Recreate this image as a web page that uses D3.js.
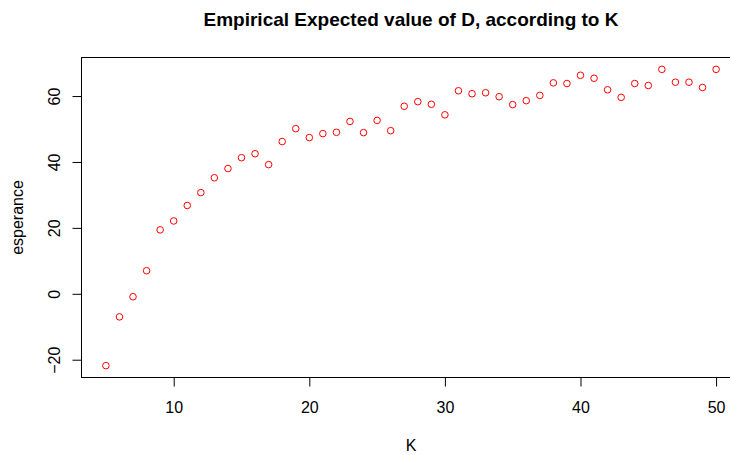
<!DOCTYPE html>
<html>
<head>
<meta charset="utf-8">
<script src="https://cdn.jsdelivr.net/npm/d3@7"></script>
<style>
  html, body { margin: 0; padding: 0; background: #fff; }
  svg { display: block; }
  text { font-family: "Liberation Sans", Arial, sans-serif; fill: #000; }
</style>
</head>
<body>
<svg id="chart" width="730" height="455"></svg>
<script>
const K = [5,6,7,8,9,10,11,12,13,14,15,16,17,18,19,20,21,22,23,24,25,26,27,28,29,30,31,32,33,34,35,36,37,38,39,40,41,42,43,44,45,46,47,48,49,50];
const esperance = [-21.8,-7.0,-0.9,7.0,19.4,22.1,26.8,30.7,35.2,38.0,41.3,42.5,39.2,46.2,50.1,47.4,48.6,49.0,52.3,48.9,52.6,49.5,56.9,58.3,57.5,54.3,61.6,60.7,61.0,59.8,57.4,58.6,60.2,64.0,63.8,66.3,65.4,61.9,59.6,63.8,63.2,68.1,64.2,64.2,62.6,68.1];
const xTicks = [10,20,30,40,50];
const yTicks = [-20,0,20,40,60];
const title = "Empirical Expected value of D, according to K";
const xLabel = "K";
const yLabel = "esperance";

const svg = d3.select("#chart");
const L = 81.5, R = 740.5, T = 57.5, B = 377.5;

function ext(arr) {
  const [a, b] = d3.extent(arr);
  const d = (b - a) * 0.04;
  return [a - d, b + d];
}
const x = d3.scaleLinear().domain(ext(K)).range([L, R]);
const y = d3.scaleLinear().domain(ext(esperance)).range([B, T]);

// box
svg.append("rect").attr("x", L).attr("y", T).attr("width", R - L).attr("height", B - T)
  .attr("fill", "none").attr("stroke", "#000").attr("stroke-width", 1);

// x axis
const gx = svg.append("g").attr("transform", `translate(0,${B})`)
  .call(d3.axisBottom(x).tickValues(xTicks).tickSize(9).tickPadding(6).tickFormat(d3.format("d")));
gx.select(".domain").remove();
gx.append("line").attr("x1", x(xTicks[0])).attr("x2", x(xTicks[xTicks.length-1])).attr("stroke", "#000");
gx.selectAll(".tick line").attr("stroke", "#000");
gx.selectAll(".tick text").attr("font-size", 16).attr("font-family", "Liberation Sans, Arial, sans-serif")
  .attr("fill", "#000").attr("dy", null).attr("y", 35.5);

// y axis
const gy = svg.append("g").attr("transform", `translate(${L},0)`)
  .call(d3.axisLeft(y).tickValues(yTicks).tickSize(9).tickFormat(d3.format("d")));
gy.select(".domain").remove();
gy.selectAll(".tick line").attr("stroke", "#000");
gy.selectAll(".tick text").attr("font-size", 16).attr("font-family", "Liberation Sans, Arial, sans-serif")
  .attr("fill", "#000").attr("x", null).attr("dy", null)
  .attr("text-anchor", "middle")
  .attr("transform", "translate(-22,0) rotate(-90)");

// points
svg.append("g").selectAll("circle").data(K).join("circle")
  .attr("cx", (d) => x(d)).attr("cy", (d, i) => y(esperance[i]))
  .attr("r", 3.3).attr("fill", "none").attr("stroke", "#ff0000").attr("stroke-width", 1);

// title
svg.append("text").attr("x", (L + R) / 2).attr("y", 26).attr("text-anchor", "middle")
  .attr("font-size", 19).attr("font-weight", "bold").text(title);
svg.append("text").attr("x", (L + R) / 2).attr("y", 451).attr("text-anchor", "middle")
  .attr("font-size", 16).text(xLabel);
svg.append("text").attr("transform", `translate(23,${(T + B) / 2}) rotate(-90)`).attr("text-anchor", "middle")
  .attr("font-size", 16).text(yLabel);
</script>
</body>
</html>
